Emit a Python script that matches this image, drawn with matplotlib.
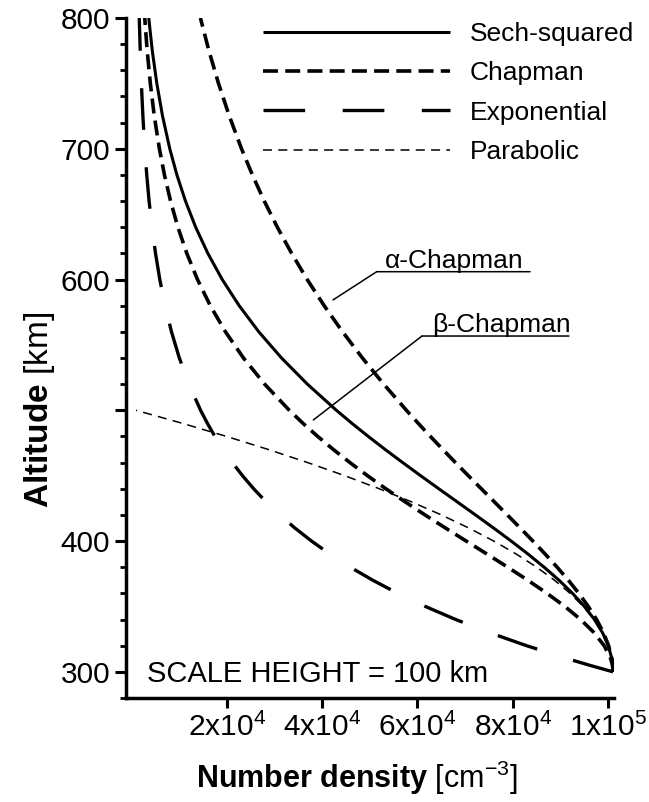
import matplotlib
matplotlib.use('Agg')
import matplotlib.pyplot as plt
from matplotlib.ticker import FixedLocator, MultipleLocator

plt.rcParams['font.family'] = ['Liberation Sans', 'DejaVu Sans']
plt.rcParams['mathtext.fontset'] = 'custom'
plt.rcParams['mathtext.rm'] = 'Liberation Sans'
plt.rcParams['mathtext.bf'] = 'Liberation Sans:bold'
plt.rcParams['mathtext.it'] = 'Liberation Sans:italic'
plt.rcParams['lines.scale_dashes'] = False

# ---------------- data ----------------
altitude_km = [300, 305, 310, 320, 330, 340, 350, 360, 370, 380, 390, 400,
               410, 420, 430, 440, 450, 460, 470, 480, 490, 500,
               520, 540, 560, 580, 600, 620, 640, 660, 680, 700,
               725, 750, 775, 800]

sech_squared = [101000, 100940, 100750, 100010, 98780, 97100, 95000, 92510,
                89690, 86560, 83200, 79650, 75950, 72160, 68320, 64470,
                60660, 56910, 53240, 49690, 46270, 43000, 36920, 31500,
                26740, 22620, 19070, 16050, 13500, 11360, 9560, 8070,
                6550, 5350, 4400, 3660]

alpha_chapman = [101000, 100940, 100760, 100070, 98980, 97550, 95810, 93830,
                 91640, 89280, 86790, 84200, 81540, 78830, 76110, 73380,
                 70660, 67970, 65320, 62710, 60170, 57680, 52920, 48460,
                 44300, 40440, 36880, 33620, 30620, 27880, 25390, 23110,
                 20550, 18280, 16270, 14490]

beta_chapman = [101000, 100880, 100520, 99140, 97000, 94210, 90900, 87170,
                83150, 78930, 74600, 70220, 65860, 61580, 57410, 53380,
                49520, 45850, 42370, 39090, 36010, 33130, 27960, 23520,
                19750, 16560, 13880, 11640, 9770, 8230, 6950, 5890,
                4820, 3990, 3330, 2820]

exponential = [101000, 96120, 91480, 82870, 75080, 68030, 61650, 55880,
               50660, 45930, 41660, 37790, 34290, 31120, 28250, 25660,
               23310, 21190, 19270, 17530, 15960, 14530, 12080, 10070,
               8430, 7080, 5980, 5080, 4340, 3730, 3240, 2830,
               2430, 2110, 1870, 1670]

parabolic_alt_km = [300, 305, 310, 320, 330, 340, 350, 360, 370, 380, 390,
                    400, 410, 420, 430, 440, 450, 460, 470, 480, 490, 500]
parabolic = [101000, 100940, 100750, 100000, 98750, 97000, 94750, 92000,
             88750, 85000, 80750, 76000, 70750, 65000, 58750, 52000,
             44750, 37000, 28750, 20000, 10750, 1000]

x_ticks = [20000, 40000, 60000, 80000, 100000]
x_tick_labels = ['2x10$^4$', '4x10$^4$', '6x10$^4$', '8x10$^4$', '1x10$^5$']
y_ticks = [300, 400, 500, 600, 700, 800]
y_tick_labels = ['300', '400', '', '600', '700', '800']

legend_labels = ['Sech-squared', 'Chapman', 'Exponential', 'Parabolic']

# ---------------- figure ----------------
W, H = 649, 802
fig = plt.figure(figsize=(W / 100, H / 100), dpi=100)
ax = fig.add_axes([126 / W, 1 - 698 / H, (614 - 126) / W, (698 - 18) / H])

l_sech, = ax.plot(sech_squared, altitude_km, color='black', lw=2.2,
                  solid_capstyle='butt')
l_chap, = ax.plot(alpha_chapman, altitude_km, color='black', lw=2.6,
                  linestyle=(0, (10.8, 5.2)))
ax.plot(beta_chapman, altitude_km, color='black', lw=2.6,
        linestyle=(0, (10.8, 5.2)))
l_exp, = ax.plot(exponential, altitude_km, color='black', lw=2.4,
                 linestyle=(0, (30, 27)))
l_par, = ax.plot(parabolic, parabolic_alt_km, color='black', lw=1.1,
                 linestyle=(0, (6.5, 4.5)))

ax.set_xlim(-1110, 101200)
ax.set_ylim(280, 800)

# spines
for side in ['top', 'right']:
    ax.spines[side].set_visible(False)
for side in ['left', 'bottom']:
    ax.spines[side].set_linewidth(2.5)

ax.xaxis.set_major_locator(FixedLocator(x_ticks))
ax.set_xticklabels(x_tick_labels)
ax.yaxis.set_major_locator(FixedLocator(y_ticks))
ax.set_yticklabels(y_tick_labels)
ax.yaxis.set_minor_locator(MultipleLocator(20))

ax.tick_params(axis='x', which='major', direction='out', length=7.2,
               width=2.2, labelsize=21.5, pad=3.5)
ax.tick_params(axis='y', which='major', direction='out', length=8,
               width=2.2, labelsize=21.5, pad=3.5)
ax.tick_params(axis='y', which='minor', direction='out', length=4.5,
               width=2.0)

# legend
leg = ax.legend([l_sech, l_chap, l_exp, l_par], legend_labels,
                loc='upper left', bbox_to_anchor=(263 / W, 1 - 22 / H),
                bbox_transform=fig.transFigure, frameon=False,
                fontsize=19, handlelength=7.08, handletextpad=0.76,
                labelspacing=0.58, borderpad=0, borderaxespad=0)

# annotations (alpha / beta Chapman)
line_kw = dict(arrowstyle='-', lw=1.1, color='black', shrinkA=0, shrinkB=0)
ax.annotate('', xy=(42290, 584.4), xytext=(51450, 606.0), arrowprops=line_kw)
ax.annotate('', xy=(51450, 606.0), xytext=(83590, 606.0), arrowprops=line_kw)
ax.text(53190, 609.0, 'α-Chapman', fontsize=19, va='baseline', ha='left')

ax.annotate('', xy=(38160, 492.6), xytext=(60940, 556.8), arrowprops=line_kw)
ax.annotate('', xy=(60940, 556.8), xytext=(91760, 556.8), arrowprops=line_kw)
ax.text(62980, 560.0, 'β-Chapman', fontsize=19, va='baseline', ha='left')

ax.text(0.043, 0.0228, 'SCALE HEIGHT = 100 km', transform=ax.transAxes,
        fontsize=21, va='baseline', ha='left')

# axis labels
fig.text(357 / W, 1 - 778 / H, r'$\mathbf{Number\ density}$ [cm$^{-3}$]',
         fontsize=22, ha='center', va='center')
fig.text(40 / W, 1 - 410 / H, r'$\mathbf{Altitude}$ [km]', fontsize=24,
         ha='center', va='center', rotation=90)

fig.savefig('out.png', dpi=100)
